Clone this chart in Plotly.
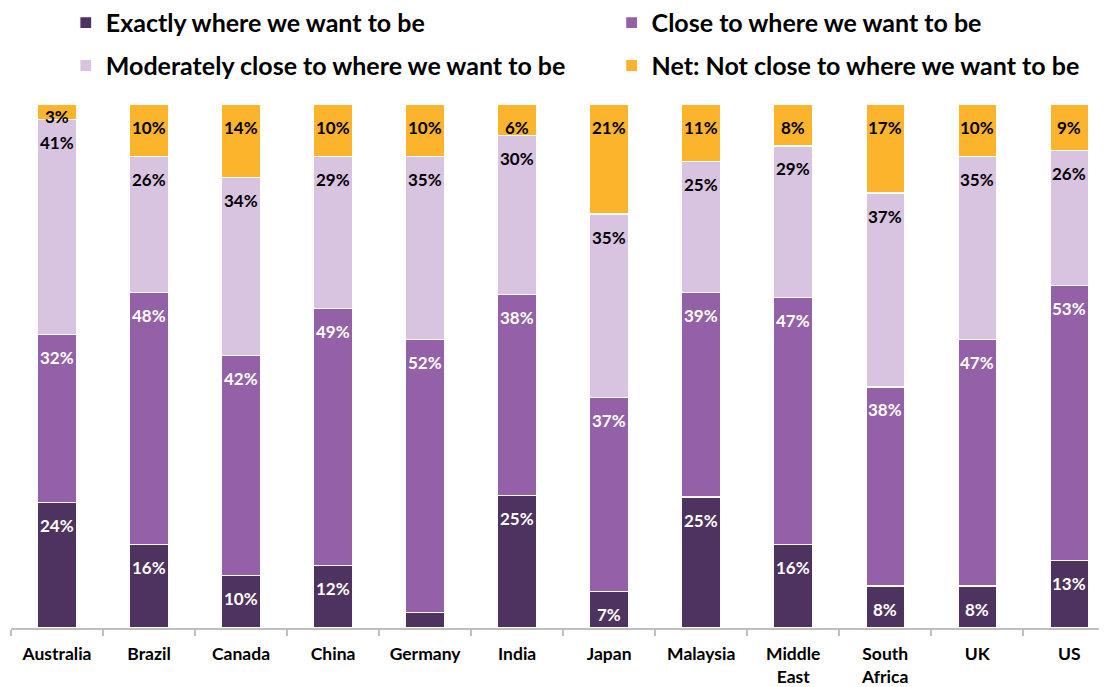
import plotly.graph_objects as go

categories = ["Australia", "Brazil", "Canada", "China", "Germany", "India", "Japan",
              "Malaysia", "Middle<br>East", "South<br>Africa", "UK", "US"]

exactly = [24, 16, 10, 12, 3, 25, 7, 25, 16, 8, 8, 13]
close = [32, 48, 42, 49, 52, 38, 37, 39, 47, 38, 47, 53]
moderately = [41, 26, 34, 29, 35, 30, 35, 25, 29, 37, 35, 26]
not_close = [3, 10, 14, 10, 10, 6, 21, 11, 8, 17, 10, 9]

series_names = ["Exactly where we want to be", "Close to where we want to be",
                "Moderately close to where we want to be", "Net: Not close to where we want to be"]
series_values = [exactly, close, moderately, not_close]
colors = ["#4E3360", "#9461A8", "#D8C3E0", "#FBB42B"]
label_colors = ["white", "white", "black", "black"]
hidden_labels = {(0, 4)}  # Germany's small bottom segment has no label

FONT = "Lato"

fig = go.Figure()
legend_ids = ["legend", "legend2", "legend3", "legend4"]
for i, (name, vals) in enumerate(zip(series_names, series_values)):
    fig.add_trace(go.Bar(
        x=categories, y=vals, name=name,
        marker=dict(color=colors[i], line=dict(color="white", width=1.2)),
        width=0.42, legend=legend_ids[i], hoverinfo="skip",
    ))

# labels near the inside end of each segment (normalized stack)
annotations = []
totals = [sum(s[j] for s in series_values) for j in range(len(categories))]
for j, cat in enumerate(categories):
    cum = 0
    for i, vals in enumerate(series_values):
        cum += vals[j]
        if (i, j) in hidden_labels:
            continue
        top = cum / totals[j] * 100
        annotations.append(dict(
            x=cat, y=top, xref="x", yref="y", text=f"<b>{vals[j]}%</b>",
            showarrow=False, yanchor="middle", yshift=-23 if vals[j] >= 5 else -12,
            font=dict(family=FONT, size=17, color=label_colors[i]),
        ))

legend_font = dict(family=FONT, size=25, color="black", weight="bold")
def leg(x, y):
    return dict(x=x, y=y, xanchor="left", yanchor="middle", orientation="h",
                font=legend_font, bgcolor="rgba(0,0,0,0)", itemclick=False)

# page body adds an 8px offset, so the figure is sized 8px smaller
fig.update_layout(
    barmode="stack", barnorm="percent",
    width=1099, height=679,
    margin=dict(l=2.5, r=0, t=96, b=59, autoexpand=False),
    plot_bgcolor="white", paper_bgcolor="white",
    showlegend=True,
    legend=leg(0.050, 1.155),
    legend2=leg(0.548, 1.155),
    legend3=leg(0.050, 1.073),
    legend4=leg(0.548, 1.073),
    annotations=annotations,
    xaxis=dict(
        type="category", range=[-0.5, 11.41], automargin=False,
        showline=True, linecolor="#BFBFBF", linewidth=1.5,
        ticks="outside", tickson="boundaries", ticklen=6, tickcolor="#BFBFBF", tickwidth=1.5,
        tickfont=dict(family=FONT, size=17.5, color="black", weight="bold"),
        ticklabelstandoff=9, showgrid=False,
    ),
    yaxis=dict(range=[0, 100], visible=False, showgrid=False, automargin=False),
)

fig.write_html("out.html")
